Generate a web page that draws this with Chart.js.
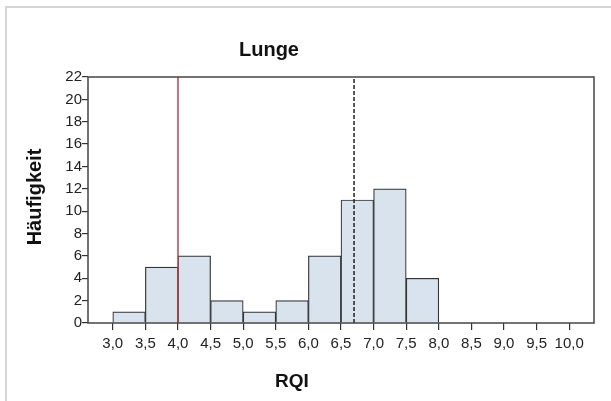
<!DOCTYPE html>
<html>
<head>
<meta charset="utf-8">
<script src="https://cdn.jsdelivr.net/npm/chart.js@4"></script>
<style>
  html, body { margin: 0; padding: 0; background: #fff; }
  #wrap { width: 611px; height: 401px; position: relative; }
</style>
</head>
<body>
<div id="wrap"><canvas id="chart"></canvas></div>
<script>
// Histogram bins (RQI) and counts
const binStarts = [3.0, 3.5, 4.0, 4.5, 5.0, 5.5, 6.0, 6.5, 7.0, 7.5];
const counts = [1, 5, 6, 2, 1, 2, 6, 11, 12, 4];
const binWidth = 0.5;

// Axis ticks
const xTicks = [3.0, 3.5, 4.0, 4.5, 5.0, 5.5, 6.0, 6.5, 7.0, 7.5, 8.0, 8.5, 9.0, 9.5, 10.0];
const yTicks = [0, 2, 4, 6, 8, 10, 12, 14, 16, 18, 20, 22];

// Reference lines
const refLine = 4.0;   // red
const meanLine = 6.7;  // dashed

const FONT = "'Liberation Sans', Arial, sans-serif";

const barData = binStarts.map((s, i) => ({ x: s + binWidth / 2, y: counts[i] }));

// Frame around the plot + outer frame + titles
const decor = {
  id: 'decor',
  beforeDraw(c) {
    const ctx = c.ctx;
    ctx.save();
    ctx.strokeStyle = '#c8c8c8';
    ctx.lineWidth = 1.5;
    ctx.beginPath();
    ctx.moveTo(6, 401);
    ctx.lineTo(6, 7);
    ctx.lineTo(611, 7);
    ctx.stroke();
    ctx.restore();
  },
  afterDraw(c) {
    const { ctx, chartArea: a } = c;
    ctx.save();
    ctx.strokeStyle = '#444';
    ctx.lineWidth = 1.5;
    ctx.strokeRect(a.left, a.top, a.right - a.left, a.bottom - a.top);

    ctx.fillStyle = '#111';
    ctx.textAlign = 'center';
    ctx.textBaseline = 'middle';
    ctx.font = 'bold 20px ' + FONT;
    ctx.fillText('Lunge', 269, 50);
    ctx.font = 'bold 19px ' + FONT;
    ctx.fillText('RQI', 292, 382);
    ctx.translate(35, 197);
    ctx.rotate(-Math.PI / 2);
    ctx.font = 'bold 20px ' + FONT;
    ctx.fillText('Häufigkeit', 0, 0);
    ctx.restore();
  }
};

new Chart(document.getElementById('chart'), {
  type: 'bar',
  data: {
    datasets: [
      {
        type: 'line',
        data: [{ x: refLine, y: 0 }, { x: refLine, y: 22 }],
        borderColor: '#b5474a',
        borderWidth: 1.5,
        pointRadius: 0,
        order: 0
      },
      {
        type: 'line',
        data: [{ x: meanLine, y: 0 }, { x: meanLine, y: 22 }],
        borderColor: '#222',
        borderWidth: 1.5,
        borderDash: [4, 2],
        pointRadius: 0,
        order: 0
      },
      {
        type: 'bar',
        data: barData,
        backgroundColor: '#d8e3ed',
        borderColor: '#333',
        borderWidth: 1.2,
        barPercentage: 1,
        categoryPercentage: 1,
        order: 1
      }
    ]
  },
  options: {
    responsive: true,
    maintainAspectRatio: false,
    animation: false,
    layout: { padding: { left: 0, top: 77, right: 17, bottom: 0 } },
    plugins: {
      legend: { display: false },
      tooltip: { enabled: false }
    },
    scales: {
      x: {
        type: 'linear',
        min: 2.62,
        max: 10.38,
        offset: false,
        afterBuildTicks(s) { s.ticks = xTicks.map(v => ({ value: v })); },
        afterFit(s) { s.height = 78; },
        grid: { offset: false, drawOnChartArea: false, drawTicks: true, tickLength: 7, color: '#333', lineWidth: 1.2 },
        border: { display: false },
        ticks: {
          color: '#222',
          padding: 5,
          maxRotation: 0,
          autoSkip: false,
          font: { family: FONT, size: 15 },
          callback: v => v.toFixed(1).replace('.', ',')
        }
      },
      y: {
        min: 0,
        max: 22,
        afterBuildTicks(s) { s.ticks = yTicks.map(v => ({ value: v })); },
        afterFit(s) { s.width = 88; },
        grid: { drawOnChartArea: false, drawTicks: true, tickLength: 6, color: '#333', lineWidth: 1.2 },
        border: { display: false },
        ticks: {
          color: '#222',
          padding: 0,
          font: { family: FONT, size: 15 }
        }
      }
    }
  },
  plugins: [decor]
});
</script>
</body>
</html>
